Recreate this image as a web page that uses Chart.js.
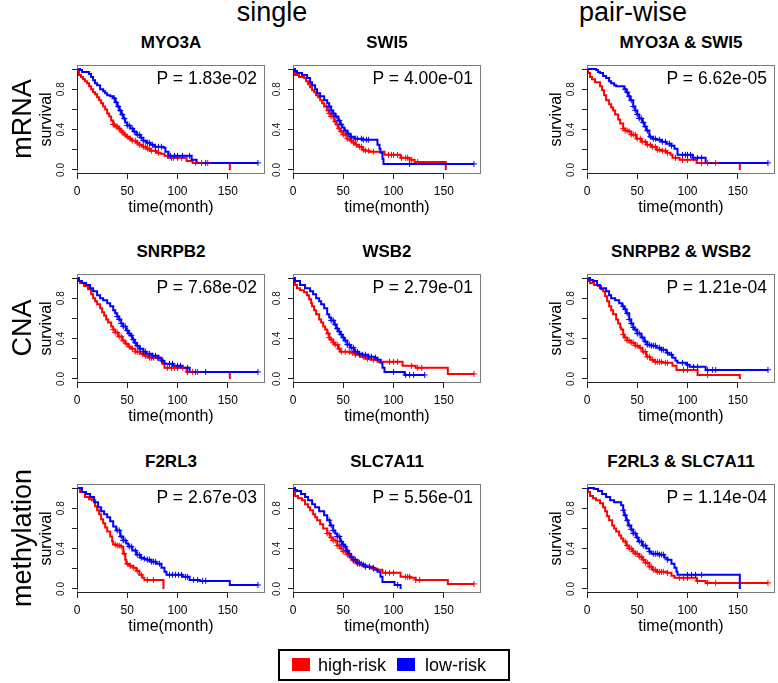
<!DOCTYPE html>
<html>
<head>
<meta charset="utf-8">
<script src="https://cdn.jsdelivr.net/npm/chart.js@4.4.1/dist/chart.umd.min.js"></script>
<style>
  body { margin: 0; background: #fff; }
  #fig { position: relative; width: 778px; height: 683px; overflow: hidden;
         font-family: "Liberation Sans", Arial, sans-serif; color: #000; }
  #fig canvas { position: absolute; }
  .t { position: absolute; white-space: nowrap; }
  .rot { position: absolute; white-space: nowrap; transform: translate(-50%, -50%) rotate(-90deg); }
</style>
</head>
<body>
<div id="fig"></div>
<script>
// ------------------------------------
// Data
// Kaplan-Meier curves as [month, survival after the drop]
// censor lists are months where a "+" sits on the curve
// ------------------------------------
const xTicks = [0, 50, 100, 150];
const yTicks = [0, 0.2, 0.4, 0.6, 0.8, 1.0];
const yLabelValues = [0, 0.4, 0.8];
const rowNames = ['mRNA', 'CNA', 'methylation'];
const headers = ['single', 'pair-wise'];
const legendLabels = ['high-risk', 'low-risk'];

// mRNA
const MYO3A_high = [[0,1],[1,0.97],[2,0.94],[4,0.92],[6,0.90],[8,0.88],[10,0.86],[12,0.83],[14,0.80],[16,0.77],[18,0.75],[20,0.72],[22,0.69],[24,0.66],[26,0.63],[28,0.60],[30,0.56],[32,0.53],[34,0.49],[36,0.45],[38,0.43],[41,0.41],[43,0.39],[45,0.37],[47,0.35],[49,0.33],[52,0.31],[55,0.29],[59,0.27],[62,0.25],[65,0.23],[69,0.21],[73,0.19],[79,0.17],[83,0.16],[87,0.14],[91,0.12],[109,0.09],[115,0.07],[152,0]];
const MYO3A_highCens = [36,37,39,40,42,44,45,48,50,53,55,58,60,62,66,68,70,72,74,78,81,90,94,96,100,104,118,124,130];
const MYO3A_low = [[0,1],[3,0.99],[5,0.97],[10,0.97],[12,0.95],[14,0.92],[16,0.89],[18,0.86],[20,0.84],[23,0.80],[26,0.78],[28,0.76],[30,0.74],[33,0.73],[36,0.71],[38,0.67],[40,0.63],[42,0.59],[44,0.55],[46,0.51],[48,0.47],[50,0.44],[53,0.41],[56,0.38],[59,0.35],[63,0.32],[66,0.29],[69,0.27],[73,0.25],[77,0.23],[86,0.22],[88,0.18],[91,0.14],[114,0.10],[119,0.07],[180,0.07]];
const MYO3A_lowCens = [37,39,41,43,45,47,50,52,55,57,60,62,64,66,70,72,75,78,81,84,93,97,100,105,112,128,180];

const SWI5_high = [[0,1],[2,0.94],[6,0.92],[11,0.91],[13,0.88],[15,0.85],[17,0.82],[19,0.79],[21,0.77],[23,0.74],[25,0.72],[27,0.69],[29,0.66],[31,0.63],[34,0.59],[36,0.56],[38,0.53],[41,0.48],[43,0.45],[45,0.41],[47,0.38],[50,0.35],[54,0.31],[57,0.29],[60,0.27],[62,0.25],[65,0.23],[69,0.20],[72,0.19],[76,0.18],[91,0.15],[107,0.12],[116,0.10],[121,0.08],[152,0]];
const SWI5_highCens = [33,35,36,38,40,42,44,46,48,50,52,54,56,58,60,63,66,68,70,72,75,80,95,98,100,104,108,112,114,118,124];
const SWI5_low = [[0,1],[2,0.98],[4,0.96],[9,0.94],[14,0.91],[17,0.87],[19,0.84],[22,0.80],[24,0.76],[27,0.73],[31,0.69],[34,0.66],[36,0.63],[38,0.59],[40,0.56],[42,0.53],[45,0.49],[47,0.45],[49,0.42],[51,0.39],[54,0.36],[57,0.33],[61,0.31],[69,0.30],[80,0.30],[84,0.25],[86,0.21],[87,0.17],[89,0.11],[90,0.06],[180,0.06]];
const SWI5_lowCens = [36,38,40,43,46,48,52,55,58,62,64,68,70,73,75,116,180];

const MYO3A_SWI5_high = [[0,1],[1,0.96],[3,0.92],[5,0.90],[8,0.87],[13,0.83],[15,0.79],[17,0.74],[19,0.69],[22,0.65],[24,0.62],[26,0.59],[28,0.55],[31,0.50],[33,0.46],[36,0.41],[38,0.39],[41,0.38],[44,0.35],[49,0.31],[54,0.28],[59,0.25],[64,0.23],[69,0.20],[74,0.19],[79,0.17],[83,0.15],[85,0.12],[92,0.10],[109,0.07],[152,0]];
const MYO3A_SWI5_highCens = [36,38,40,42,44,46,48,50,53,55,58,60,63,65,68,70,72,75,78,80,88,95,100,114,120,128];
const MYO3A_SWI5_low = [[0,1],[9,0.99],[11,0.97],[13,0.96],[16,0.93],[19,0.91],[22,0.88],[24,0.86],[27,0.84],[29,0.83],[37,0.80],[39,0.77],[41,0.73],[43,0.69],[46,0.63],[48,0.59],[50,0.55],[52,0.51],[55,0.47],[57,0.43],[59,0.39],[62,0.33],[65,0.31],[69,0.30],[74,0.28],[79,0.26],[84,0.24],[87,0.21],[90,0.15],[105,0.12],[118,0.07],[180,0.07]];
const MYO3A_SWI5_lowCens = [38,40,42,44,46,48,50,52,54,56,58,60,63,66,68,72,75,78,82,84,95,98,100,103,106,110,114,180];

// CNA
const SNRPB2_high = [[0,1],[1,0.97],[3,0.95],[7,0.92],[11,0.89],[14,0.84],[16,0.80],[18,0.77],[20,0.74],[23,0.70],[25,0.66],[27,0.63],[29,0.59],[31,0.56],[34,0.52],[36,0.49],[38,0.46],[41,0.42],[45,0.38],[48,0.35],[51,0.32],[54,0.30],[58,0.27],[63,0.25],[67,0.23],[72,0.21],[82,0.20],[85,0.15],[87,0.11],[109,0.07],[152,0]];
const SNRPB2_highCens = [36,38,40,42,44,46,49,52,55,58,60,62,65,68,70,72,74,76,80,90,94,97,100,105,110,115,120];
const SNRPB2_low = [[0,1],[2,0.97],[5,0.95],[9,0.93],[13,0.90],[16,0.87],[20,0.83],[23,0.80],[26,0.78],[30,0.75],[33,0.72],[36,0.68],[38,0.65],[40,0.62],[42,0.59],[44,0.55],[46,0.52],[49,0.48],[51,0.45],[53,0.43],[55,0.39],[57,0.36],[59,0.33],[62,0.30],[66,0.27],[69,0.25],[75,0.23],[81,0.21],[84,0.18],[87,0.15],[96,0.13],[105,0.11],[112,0.07],[180,0.07]];
const SNRPB2_lowCens = [40,42,44,46,48,50,52,54,56,58,60,63,66,68,72,75,78,81,84,92,95,100,103,110,118,128,180];

const WSB2_high = [[0,1],[2,0.93],[4,0.90],[7,0.88],[11,0.86],[14,0.83],[16,0.79],[18,0.75],[19,0.72],[21,0.68],[23,0.64],[26,0.59],[28,0.56],[30,0.52],[32,0.49],[34,0.45],[36,0.41],[37,0.39],[40,0.36],[42,0.34],[45,0.30],[47,0.27],[52,0.27],[57,0.26],[62,0.24],[67,0.22],[72,0.20],[77,0.19],[84,0.17],[109,0.13],[122,0.11],[154,0.05],[180,0.05]];
const WSB2_highCens = [35,36,38,40,42,44,46,48,52,56,59,62,66,70,74,80,88,96,100,104,118,124,128,180];
const WSB2_low = [[0,1],[2,0.97],[7,0.93],[12,0.90],[17,0.87],[20,0.84],[23,0.80],[26,0.77],[28,0.74],[31,0.70],[34,0.64],[36,0.61],[38,0.58],[41,0.54],[43,0.50],[45,0.47],[47,0.44],[49,0.41],[51,0.38],[54,0.34],[57,0.31],[61,0.27],[65,0.25],[69,0.24],[75,0.22],[81,0.21],[84,0.19],[87,0.16],[89,0.11],[91,0.07],[111,0.04],[131,0.04]];
const WSB2_lowCens = [38,40,42,44,46,48,50,52,54,56,58,60,62,64,66,69,72,75,78,82,100,112,116,120,131];

const SNRPB2_WSB2_high = [[0,1],[1,0.97],[3,0.95],[7,0.93],[11,0.92],[14,0.89],[16,0.87],[18,0.82],[20,0.77],[22,0.72],[24,0.68],[26,0.64],[29,0.59],[31,0.55],[33,0.51],[34,0.49],[36,0.44],[37,0.41],[40,0.38],[44,0.36],[48,0.33],[52,0.31],[55,0.27],[59,0.22],[63,0.19],[67,0.17],[75,0.16],[85,0.13],[89,0.09],[110,0.04],[152,0]];
const SNRPB2_WSB2_highCens = [36,38,40,42,44,46,48,50,53,56,58,60,62,65,68,70,72,74,78,80,96,100,120];
const SNRPB2_WSB2_low = [[0,1],[3,0.98],[6,0.97],[10,0.93],[13,0.90],[19,0.87],[22,0.83],[24,0.80],[28,0.78],[32,0.75],[35,0.72],[37,0.69],[39,0.65],[42,0.59],[44,0.55],[46,0.51],[47,0.49],[50,0.45],[54,0.41],[57,0.37],[60,0.34],[64,0.33],[69,0.31],[74,0.29],[79,0.26],[82,0.24],[85,0.21],[88,0.18],[90,0.16],[99,0.14],[102,0.12],[118,0.09],[180,0.09]];
const SNRPB2_WSB2_lowCens = [36,38,40,42,44,46,48,50,52,55,58,60,62,64,66,68,72,74,76,80,84,95,100,106,110,120,125,128,180];

// methylation
const F2RL3_high = [[0,1],[3,0.96],[8,0.91],[12,0.89],[15,0.88],[18,0.82],[20,0.78],[22,0.74],[24,0.69],[26,0.65],[28,0.61],[30,0.57],[33,0.52],[35,0.47],[36,0.44],[40,0.43],[43,0.42],[46,0.35],[48,0.29],[49,0.25],[52,0.23],[56,0.21],[59,0.18],[62,0.14],[65,0.11],[67,0.09],[86,0]];
const F2RL3_highCens = [38,40,42,44,47,50,53,56,60,64,70,76];
const F2RL3_low = [[0,1],[5,0.96],[9,0.94],[13,0.91],[17,0.86],[21,0.81],[24,0.77],[27,0.74],[30,0.71],[33,0.67],[36,0.62],[39,0.58],[43,0.52],[46,0.48],[49,0.45],[51,0.42],[55,0.38],[59,0.34],[63,0.31],[66,0.30],[69,0.29],[74,0.27],[79,0.25],[84,0.21],[87,0.17],[89,0.14],[105,0.12],[112,0.09],[122,0.08],[152,0.04],[180,0.04]];
const F2RL3_lowCens = [40,42,44,46,48,52,54,58,60,62,64,67,70,72,74,76,78,82,92,95,98,101,104,108,110,116,120,125,128,180];

const SLC7A11_high = [[0,1],[2,0.92],[5,0.90],[9,0.88],[12,0.84],[15,0.81],[17,0.78],[20,0.74],[22,0.71],[24,0.68],[27,0.64],[30,0.60],[34,0.55],[37,0.51],[40,0.48],[44,0.43],[47,0.40],[50,0.37],[54,0.34],[57,0.31],[60,0.28],[64,0.25],[69,0.23],[74,0.22],[79,0.20],[84,0.19],[89,0.16],[107,0.12],[117,0.11],[122,0.09],[154,0.05],[180,0.05]];
const SLC7A11_highCens = [34,36,38,40,42,44,46,48,50,52,54,56,58,60,62,64,66,68,72,76,80,92,96,100,112,114,116,122,126,180];
const SLC7A11_low = [[0,1],[2,0.98],[4,0.97],[8,0.94],[12,0.91],[15,0.88],[19,0.84],[22,0.81],[26,0.77],[31,0.73],[34,0.68],[37,0.63],[40,0.58],[42,0.55],[44,0.52],[47,0.47],[49,0.44],[51,0.42],[53,0.38],[55,0.35],[57,0.32],[60,0.29],[64,0.26],[67,0.24],[72,0.22],[77,0.21],[81,0.19],[84,0.17],[87,0.12],[89,0.07],[101,0.04],[107,0]];
const SLC7A11_lowCens = [36,38,40,44,46,48,50,52,54,56,58,60,62,64,66,70,72,76,80,104];

const F2RL3_SLC7A11_high = [[0,1],[1,0.96],[3,0.92],[6,0.90],[9,0.88],[13,0.85],[16,0.81],[18,0.77],[20,0.72],[22,0.68],[25,0.63],[27,0.60],[29,0.57],[32,0.53],[34,0.50],[36,0.47],[39,0.43],[42,0.40],[45,0.37],[48,0.35],[52,0.32],[55,0.29],[58,0.26],[62,0.22],[65,0.19],[69,0.17],[79,0.16],[84,0.13],[87,0.11],[109,0.08],[118,0.06],[180,0.06]];
const F2RL3_SLC7A11_highCens = [38,40,42,44,46,48,50,52,54,56,58,60,62,64,66,68,70,72,74,76,80,92,96,100,110,120,128,180];
const F2RL3_SLC7A11_low = [[0,1],[7,0.99],[11,0.97],[15,0.94],[19,0.91],[23,0.88],[27,0.86],[34,0.83],[36,0.78],[37,0.73],[39,0.68],[41,0.63],[44,0.59],[46,0.55],[49,0.51],[51,0.47],[55,0.43],[59,0.40],[62,0.37],[64,0.35],[72,0.34],[77,0.31],[80,0.29],[84,0.25],[87,0.21],[89,0.17],[90,0.14],[152,0]];
const F2RL3_SLC7A11_lowCens = [36,38,40,42,44,46,48,50,52,54,56,58,62,66,68,70,72,74,76,80,100,104,108,114];

const pValues = [
  ['P = 1.83e-02', 'P = 4.00e-01', 'P = 6.62e-05'],
  ['P = 7.68e-02', 'P = 2.79e-01', 'P = 1.21e-04'],
  ['P = 2.67e-03', 'P = 5.56e-01', 'P = 1.14e-04']
];

const panels = [
  { row: 0, col: 0, title: 'MYO3A', high: MYO3A_high, highCens: MYO3A_highCens, low: MYO3A_low, lowCens: MYO3A_lowCens },
  { row: 0, col: 1, title: 'SWI5', high: SWI5_high, highCens: SWI5_highCens, low: SWI5_low, lowCens: SWI5_lowCens },
  { row: 0, col: 2, title: 'MYO3A & SWI5', high: MYO3A_SWI5_high, highCens: MYO3A_SWI5_highCens, low: MYO3A_SWI5_low, lowCens: MYO3A_SWI5_lowCens },
  { row: 1, col: 0, title: 'SNRPB2', high: SNRPB2_high, highCens: SNRPB2_highCens, low: SNRPB2_low, lowCens: SNRPB2_lowCens },
  { row: 1, col: 1, title: 'WSB2', high: WSB2_high, highCens: WSB2_highCens, low: WSB2_low, lowCens: WSB2_lowCens },
  { row: 1, col: 2, title: 'SNRPB2 & WSB2', high: SNRPB2_WSB2_high, highCens: SNRPB2_WSB2_highCens, low: SNRPB2_WSB2_low, lowCens: SNRPB2_WSB2_lowCens },
  { row: 2, col: 0, title: 'F2RL3', high: F2RL3_high, highCens: F2RL3_highCens, low: F2RL3_low, lowCens: F2RL3_lowCens },
  { row: 2, col: 1, title: 'SLC7A11', high: SLC7A11_high, highCens: SLC7A11_highCens, low: SLC7A11_low, lowCens: SLC7A11_lowCens },
  { row: 2, col: 2, title: 'F2RL3 & SLC7A11', high: F2RL3_SLC7A11_high, highCens: F2RL3_SLC7A11_highCens, low: F2RL3_SLC7A11_low, lowCens: F2RL3_SLC7A11_lowCens }
];

// ------------------------------------
// Layout
// ------------------------------------
const RED = '#ff0000';
const BLUE = '#0000ff';
const FONT = '"Liberation Sans", Arial, sans-serif';
const colLeft = [77, 293, 587];
const rowTop = [64, 273, 483];
const BOX_W = 188, BOX_H = 110;
const Y_AXIS_W = 46, X_AXIS_H = 46, PAD_T = 4, PAD_R = 6;

const fig = document.getElementById('fig');

// value of the step curve at time t (where a censor mark sits)
function survAt(curve, t) {
  let s = curve[0][1];
  for (const [ct, cs] of curve) { if (ct <= t) s = cs; }
  return s;
}

const frame = {
  id: 'frame',
  afterDraw(chart) {
    const { ctx, chartArea: a, scales: { x, y } } = chart;
    ctx.save();
    // plot box
    ctx.strokeStyle = '#7a7a7a';
    ctx.lineWidth = 1;
    ctx.strokeRect(a.left + 0.5, a.top + 0.5, a.width - 1, a.height - 1);
    // axis lines, first to last tick like R
    ctx.strokeStyle = '#222';
    ctx.beginPath();
    ctx.moveTo(x.getPixelForValue(xTicks[0]), a.bottom - 0.5);
    ctx.lineTo(x.getPixelForValue(xTicks[xTicks.length - 1]), a.bottom - 0.5);
    ctx.moveTo(a.left + 0.5, y.getPixelForValue(yTicks[0]));
    ctx.lineTo(a.left + 0.5, y.getPixelForValue(yTicks[yTicks.length - 1]));
    ctx.stroke();
    // rotated y tick labels
    ctx.fillStyle = '#111';
    ctx.font = '10px ' + FONT;
    ctx.textAlign = 'center';
    ctx.textBaseline = 'middle';
    yLabelValues.forEach(v => {
      ctx.save();
      ctx.translate(a.left - 16, y.getPixelForValue(v));
      ctx.rotate(-Math.PI / 2);
      ctx.fillText(v.toFixed(1), 0, 0);
      ctx.restore();
    });
    ctx.restore();
  }
};

panels.forEach(p => {
  const L = colLeft[p.col], T = rowTop[p.row];
  const canvas = document.createElement('canvas');
  canvas.width = Y_AXIS_W + BOX_W + PAD_R;
  canvas.height = PAD_T + BOX_H + X_AXIS_H;
  canvas.style.left = (L - Y_AXIS_W) + 'px';
  canvas.style.top = (T - PAD_T) + 'px';
  fig.appendChild(canvas);

  const curve = (pts) => pts.map(([x, y]) => ({ x, y }));
  const marks = (pts, cens) => cens.map(t => ({ x: t, y: survAt(pts, t) }));
  const axisGrid = { drawOnChartArea: false, drawTicks: true, tickLength: 5, tickColor: '#222', tickWidth: 1 };

  new Chart(canvas.getContext('2d'), {
    type: 'line',
    data: {
      datasets: [
        { type: 'scatter', data: marks(p.low, p.lowCens), pointStyle: 'cross', pointRadius: 3, borderColor: BLUE, borderWidth: 1 },
        { type: 'scatter', data: marks(p.high, p.highCens), pointStyle: 'cross', pointRadius: 3, borderColor: RED, borderWidth: 1 },
        { data: curve(p.low), borderColor: BLUE, borderWidth: 2, stepped: true, pointRadius: 0, fill: false },
        { data: curve(p.high), borderColor: RED, borderWidth: 2, stepped: true, pointRadius: 0, fill: false }
      ]
    },
    options: {
      responsive: false,
      animation: false,
      events: [],
      layout: { padding: { top: PAD_T, right: PAD_R, left: 0, bottom: 0 } },
      plugins: { legend: { display: false }, tooltip: { enabled: false } },
      scales: {
        x: {
          type: 'linear', min: 0, max: 187,
          afterBuildTicks: s => { s.ticks = xTicks.map(v => ({ value: v })); },
          afterFit: s => { s.height = X_AXIS_H; },
          grid: axisGrid,
          border: { display: false },
          ticks: { font: { family: FONT, size: 12 }, color: '#000', padding: 5, maxRotation: 0, autoSkip: false },
          title: { display: true, text: 'time(month)', color: '#000', font: { family: FONT, size: 16 }, padding: { top: 0, bottom: 3 } }
        },
        y: {
          type: 'linear', min: -0.04, max: 1.04,
          afterBuildTicks: s => { s.ticks = yTicks.map(v => ({ value: v })); },
          afterFit: s => { s.width = Y_AXIS_W; },
          grid: axisGrid,
          border: { display: false },
          ticks: { display: false },
          title: { display: p.col !== 1, text: 'survival', color: '#000', font: { family: FONT, size: 16 }, padding: { top: 6, bottom: 0 } }
        }
      }
    },
    plugins: [frame]
  });

  // panel title and p-value
  const title = document.createElement('div');
  title.className = 't';
  title.textContent = p.title;
  title.style.cssText = `left:${L}px;width:${BOX_W}px;text-align:center;top:${T - 31}px;font-size:17px;line-height:20px;font-weight:bold;`;
  fig.appendChild(title);

  const pv = document.createElement('div');
  pv.className = 't';
  pv.textContent = pValues[p.row][p.col];
  pv.style.cssText = `right:${778 - (L + BOX_W - 8)}px;top:${T + 4}px;font-size:17.5px;line-height:20px;`;
  fig.appendChild(pv);
});

// column headers
[[272, headers[0]], [633, headers[1]]].forEach(([cx, txt]) => {
  const d = document.createElement('div');
  d.className = 't';
  d.textContent = txt;
  d.style.cssText = `left:${cx - 100}px;width:200px;text-align:center;top:-1px;font-size:27px;line-height:27px;`;
  fig.appendChild(d);
});

// row labels
rowNames.forEach((name, i) => {
  const d = document.createElement('div');
  d.className = 'rot';
  d.textContent = name;
  d.style.cssText = `left:22px;top:${rowTop[i] + BOX_H / 2}px;font-size:27px;line-height:30px;`;
  fig.appendChild(d);
});

// legend
const leg = document.createElement('div');
leg.className = 't';
leg.style.cssText = 'left:278px;top:649px;width:228px;height:28px;border:2px solid #000;';
fig.appendChild(leg);
[[292, 318, RED, legendLabels[0]], [397, 425, BLUE, legendLabels[1]]].forEach(([sx, tx, col, txt]) => {
  const sq = document.createElement('div');
  sq.className = 't';
  sq.style.cssText = `left:${sx}px;top:658px;width:18px;height:13px;background:${col};`;
  fig.appendChild(sq);
  const lab = document.createElement('div');
  lab.className = 't';
  lab.textContent = txt;
  lab.style.cssText = `left:${tx}px;top:654px;font-size:18px;line-height:22px;`;
  fig.appendChild(lab);
});
</script>
</body>
</html>
